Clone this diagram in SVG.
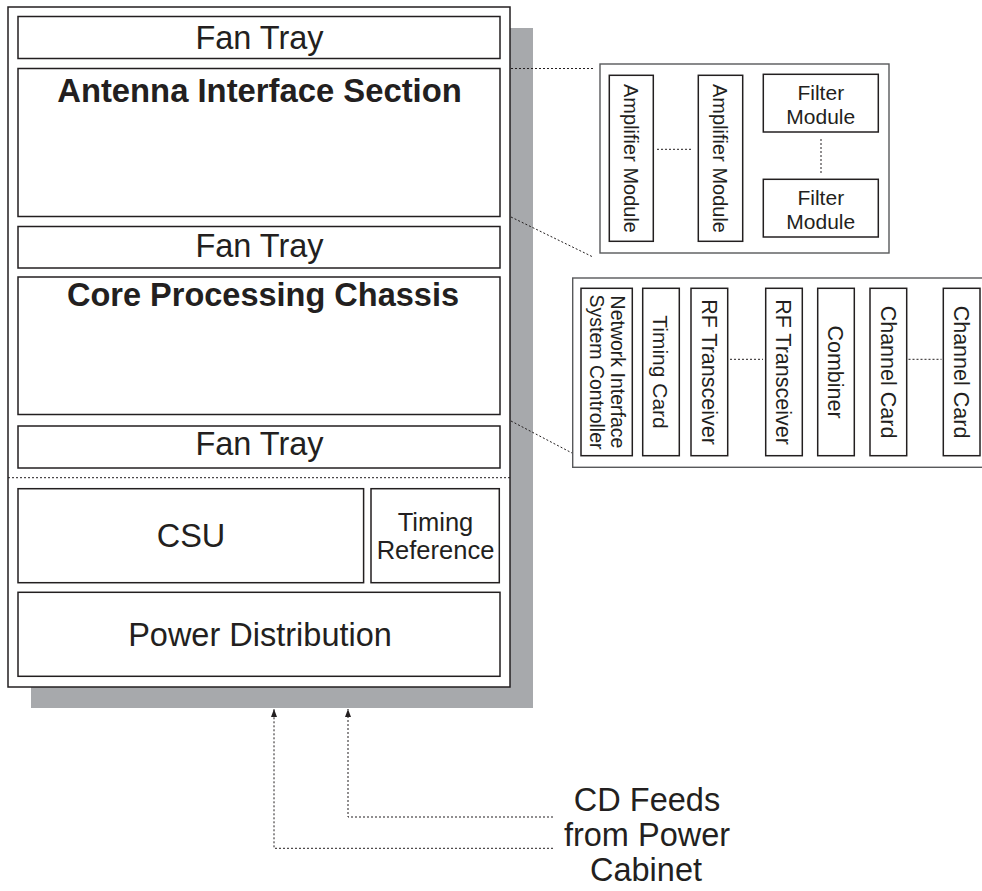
<svg xmlns="http://www.w3.org/2000/svg" width="982" height="891" viewBox="0 0 982 891">
<defs>
<style>
.box{fill:#fff;stroke:#231f20;stroke-width:1.5}
.panel{fill:#fff;stroke:#58595b;stroke-width:1.4}
.t{font-family:"Liberation Sans",Arial,sans-serif;fill:#231f20;text-anchor:middle}
.b{font-weight:bold}
.dot{fill:none;stroke:#231f20;stroke-width:1;stroke-dasharray:2 2}
</style>
<marker id="ah" viewBox="0 0 8 6" refX="8" refY="3" markerWidth="8" markerHeight="6" markerUnits="userSpaceOnUse" orient="auto">
<path d="M0,0 L8,3 L0,6 Z" fill="#231f20"/>
</marker>
</defs>
<rect width="982" height="891" fill="#fff"/>

<g id="cabinet">
<rect x="31" y="28" width="502" height="680" fill="#a7a9ac"/>
<rect x="8" y="7" width="502" height="680" class="box"/>
</g>

<g id="fan-tray-1">
<rect x="18" y="16.5" width="482" height="42" class="box"/>
<text class="t" x="259.5" y="48.5" font-size="32.5">Fan Tray</text>
</g>
<g id="antenna-interface-section">
<rect x="18" y="68.5" width="482" height="148" class="box"/>
<text class="t b" x="259.5" y="101.5" font-size="32.8">Antenna Interface Section</text>
</g>
<g id="fan-tray-2">
<rect x="18" y="226.5" width="482" height="41.5" class="box"/>
<text class="t" x="259.5" y="257" font-size="32.5">Fan Tray</text>
</g>
<g id="core-processing-chassis">
<rect x="18" y="277" width="482" height="137.5" class="box"/>
<text class="t b" x="263" y="306" font-size="32.5">Core Processing Chassis</text>
</g>
<g id="fan-tray-3">
<rect x="18" y="426" width="482" height="42" class="box"/>
<text class="t" x="259.5" y="455" font-size="32.5">Fan Tray</text>
</g>
<g id="csu">
<rect x="18" y="488.7" width="345.6" height="94" class="box"/>
<text class="t" x="191" y="547.3" font-size="32.5">CSU</text>
</g>
<g id="timing-reference">
<rect x="371" y="488.7" width="128.3" height="94" class="box"/>
<text class="t" x="435.5" y="530.7" font-size="25.5">Timing</text>
<text class="t" x="435.5" y="559" font-size="25.5">Reference</text>
</g>
<g id="power-distribution">
<rect x="18" y="592.3" width="482" height="84" class="box"/>
<text class="t" x="260" y="646" font-size="32.5">Power Distribution</text>
</g>

<g id="antenna-detail">
<rect x="600" y="64" width="289" height="189" class="panel"/>
</g>
<g id="amplifier-module-1">
<rect x="609.3" y="75.3" width="44" height="166" class="box"/>
<text class="t" transform="translate(631.3,158.5) rotate(90)" y="7.2" font-size="20">Amplifier Module</text>
</g>
<g id="amplifier-module-2">
<rect x="698.3" y="75.3" width="44.4" height="166" class="box"/>
<text class="t" transform="translate(720.5,158.5) rotate(90)" y="7.2" font-size="20">Amplifier Module</text>
</g>
<g id="filter-module-1">
<rect x="763.3" y="74.3" width="115" height="57.7" class="box"/>
<text class="t" x="820.8" y="100" font-size="21">Filter</text>
<text class="t" x="820.8" y="124" font-size="21">Module</text>
</g>
<g id="filter-module-2">
<rect x="763.3" y="179.3" width="115" height="57.7" class="box"/>
<text class="t" x="820.8" y="205" font-size="21">Filter</text>
<text class="t" x="820.8" y="229" font-size="21">Module</text>
</g>

<g id="core-detail">
<rect x="572.7" y="278" width="420" height="189.3" class="panel"/>
</g>
<g id="network-interface-system-controller">
<rect x="581" y="288.3" width="51.3" height="167.4" class="box"/>
<text class="t" transform="translate(606.7,372) rotate(90)" y="-4.3" font-size="19.5">Network Interface</text>
<text class="t" transform="translate(606.7,372) rotate(90)" y="16.7" font-size="19.5">System Controller</text>
</g>
<g id="timing-card">
<rect x="642.7" y="288.3" width="36.6" height="167.4" class="box"/>
<text class="t" transform="translate(661,372) rotate(90)" y="7.6" font-size="21">Timing Card</text>
</g>
<g id="rf-transceiver-1">
<rect x="691" y="288.3" width="36.7" height="167.4" class="box"/>
<text class="t" transform="translate(709.3,372) rotate(90)" y="7.7" font-size="21.5">RF Transceiver</text>
</g>
<g id="rf-transceiver-2">
<rect x="765.7" y="288.3" width="36.6" height="167.4" class="box"/>
<text class="t" transform="translate(784,372) rotate(90)" y="7.7" font-size="21.5">RF Transceiver</text>
</g>
<g id="combiner">
<rect x="817.7" y="288.3" width="36.6" height="167.4" class="box"/>
<text class="t" transform="translate(836,372) rotate(90)" y="7.7" font-size="21.5">Combiner</text>
</g>
<g id="channel-card-1">
<rect x="870" y="288.3" width="36.7" height="167.4" class="box"/>
<text class="t" transform="translate(888.3,372) rotate(90)" y="7.7" font-size="21.5">Channel Card</text>
</g>
<g id="channel-card-2">
<rect x="943.3" y="288.3" width="36.7" height="167.4" class="box"/>
<text class="t" transform="translate(961.7,372) rotate(90)" y="7.7" font-size="21.5">Channel Card</text>
</g>

<g id="cd-feeds-label">
<text class="t" x="647" y="811" font-size="32.5">CD Feeds</text>
<text class="t" x="647" y="846" font-size="32.5">from Power</text>
<text class="t" x="646" y="881" font-size="32.5">Cabinet</text>
</g>

<g id="connectors">
<line class="dot" x1="8" y1="477.7" x2="510" y2="477.7"/>
<line class="dot" x1="511" y1="68.5" x2="593" y2="68.5"/>
<line class="dot" x1="511" y1="217" x2="593" y2="257"/>
<line class="dot" x1="511" y1="421" x2="572" y2="453"/>
<line class="dot" x1="657" y1="149.3" x2="691" y2="149.3"/>
<line class="dot" x1="821" y1="139" x2="821" y2="174"/>
<line class="dot" x1="730" y1="359.3" x2="763" y2="359.3"/>
<line class="dot" x1="908.5" y1="359.3" x2="941.5" y2="359.3"/>
<polyline class="dot" points="553,848.3 274,848.3 274,709" marker-end="url(#ah)"/>
<polyline class="dot" points="553,817 348,817 348,709" marker-end="url(#ah)"/>
</g>
</svg>
